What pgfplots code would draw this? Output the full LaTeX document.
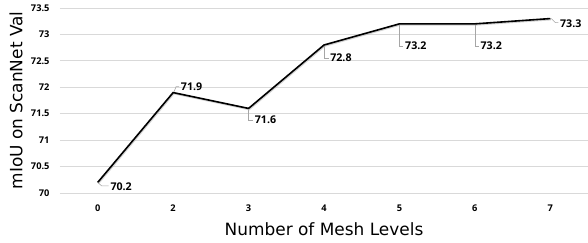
\documentclass[border=0pt]{standalone}
\usepackage{fontspec}
\setmainfont{DejaVu Sans}
\newfontfamily\numfont{Open Sans}
\usepackage{pgfplots}
\pgfplotsset{compat=1.18}
\usepackage{pgfplotstable}
\definecolor{gridc}{HTML}{D9D9D9}
\definecolor{leadc}{HTML}{A6A6A6}

\pgfplotstableread{
idx val dx dy
0 70.2 12 -4.5
1 71.9 7 6
2 71.6 5.5 -11.5
3 72.8 5.5 -13
4 73.2 5 -22
5 73.2 5 -22
6 73.3 9 -5
}\datatable

\begin{document}
\begin{tikzpicture}
\begin{axis}[
  at={(0,0)}, anchor=south west,
  scale only axis,
  width=528bp, height=185bp,
  xmin=-0.5, xmax=6.5,
  ymin=70, ymax=73.5,
  xtick={0,1,2,3,4,5,6},
  xticklabels={0,2,3,4,5,6,7},
  ytick={70,70.5,71,71.5,72,72.5,73,73.5},
  /pgf/number format/assume math mode=true,
  yticklabel={\pgfmathprintnumber{\tick}},
  ymajorgrids,
  major grid style={gridc, line width=0.9bp},
  axis line style={draw=none},
  tick style={draw=none},
  clip=false,
  ticklabel style={font=\numfont\bfseries\fontsize{9.3}{10}\selectfont},
  yticklabel style={xshift=-7bp},
  xticklabel style={yshift=-8bp},
  xlabel={Number of Mesh Levels},
  ylabel={mIoU on ScanNet Val},
  label style={font=\fontsize{17}{19}\selectfont},
  xlabel style={at={(axis description cs:0.5,-0.1946)}, anchor=center},
  ylabel style={at={(axis description cs:-0.0833,0.5)}, anchor=center, rotate=0},
]
\addplot[black!35, line width=2bp, opacity=0.5, forget plot, shift={(0.6bp,-0.8bp)}]
  table[x=idx, y=val]{\datatable};
\addplot[black, line width=1.6bp,
  nodes near coords={\pgfmathprintnumber[fixed,precision=1,fixed zerofill]{\pgfplotspointmeta}},
  point meta=explicit,
  visualization depends on={\thisrow{dx} \as \dx},
  visualization depends on={\thisrow{dy} \as \dy},
  nodes near coords style={anchor=west, inner sep=0pt, xshift=\dx*1bp, yshift=\dy*1bp,
    font=\numfont\bfseries\fontsize{10.7}{12}\selectfont, text=black},
] table[x=idx, y=val, meta=val]{\datatable};
\draw[leadc, line width=0.6bp] (axis cs:0,70.2) -- ++(4bp,-3.5bp) -- ++(7bp,0bp);
\draw[leadc, line width=0.6bp] (axis cs:1,71.9) ++(1bp,1bp) -- ++(2bp,5bp) -- ++(3bp,0bp);
\draw[leadc, line width=0.6bp] (axis cs:2,71.6) ++(0bp,-1bp) -- ++(0bp,-10.5bp) -- ++(4.5bp,0bp);
\draw[leadc, line width=0.6bp] (axis cs:3,72.8) ++(0bp,-1bp) -- ++(0bp,-12bp) -- ++(4.5bp,0bp);
\draw[leadc, line width=0.6bp] (axis cs:4,73.2) ++(0bp,-1bp) -- ++(0bp,-21bp) -- ++(4bp,0bp);
\draw[leadc, line width=0.6bp] (axis cs:5,73.2) ++(0bp,-1bp) -- ++(0bp,-21bp) -- ++(4bp,0bp);
\draw[leadc, line width=0.6bp] (axis cs:6,73.3) ++(1bp,0bp) -- ++(4bp,-4bp) -- ++(3bp,0bp);
\end{axis}
\pgfresetboundingbox
\path (-60bp,-50bp) rectangle (528bp,193bp);
\end{tikzpicture}
\end{document}
